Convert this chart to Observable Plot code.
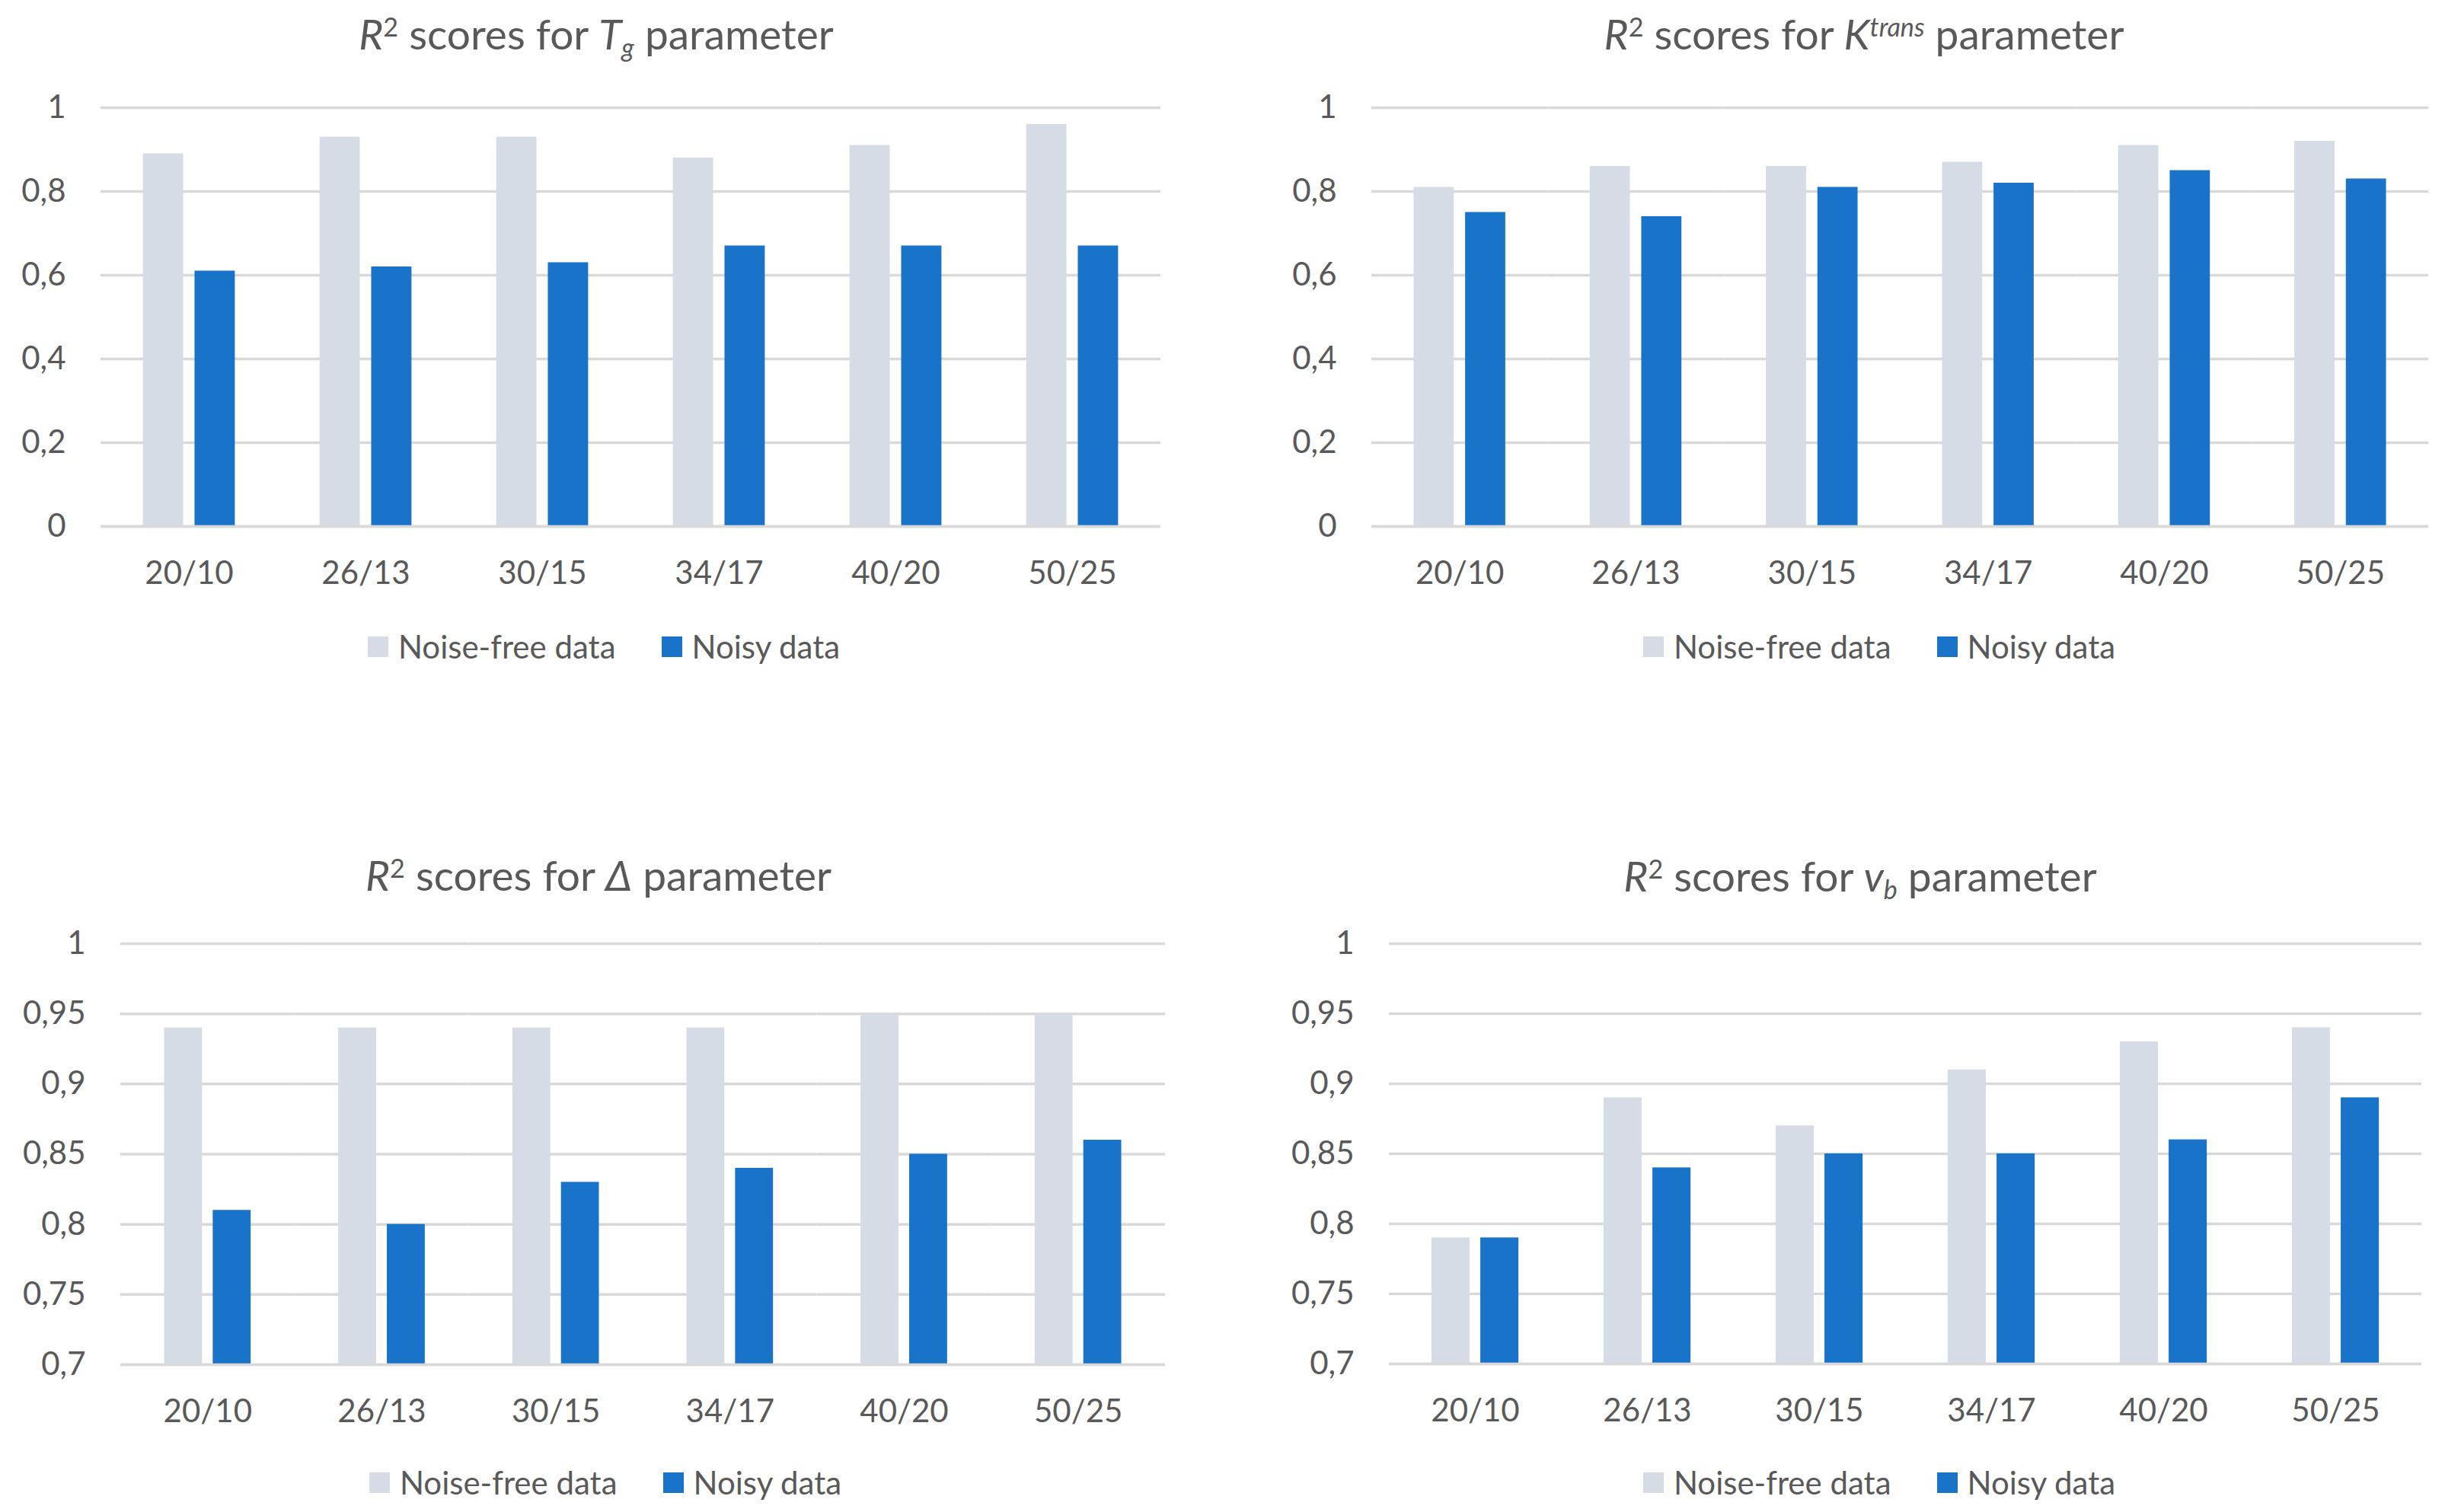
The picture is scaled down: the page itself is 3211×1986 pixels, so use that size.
<!DOCTYPE html>
<html>
<head>
<meta charset="utf-8">
<script src="https://cdn.jsdelivr.net/npm/d3@7"></script>
<script src="https://cdn.jsdelivr.net/npm/@observablehq/plot@0.6"></script>
<style>
  html, body { margin: 0; padding: 0; background: #fff; }
  #page { position: relative; width: 3211px; height: 1986px; background: #fff; overflow: hidden;
          font-family: Lato, "Open Sans", sans-serif; color: #595959; }
  .title { position: absolute; width: 1200px; text-align: center; font-size: 55px; line-height: 1.2;
           white-space: nowrap; color: #595959; }
  .sup { position: relative; top: -0.5em; font-size: 0.62em; }
  .sub { position: relative; top: 0.3em; font-size: 0.62em; }
  .legend { position: absolute; width: 1200px; display: flex; justify-content: center; align-items: center;
            font-size: 42px; line-height: 1; color: #595959; }
  .legend .item { display: flex; align-items: center; }
  .legend .item + .item { margin-left: 60px; }
  .legend .sw { width: 27px; height: 27px; margin-right: 13px; }
  .chart { position: absolute; }
</style>
</head>
<body>
<div id="page"></div>
<script>
// ---- data ----
const categories = ["20/10", "26/13", "30/15", "34/17", "40/20", "50/25"];
const seriesNames = ["Noise-free data", "Noisy data"];
const seriesColors = ["#d6dce5", "#1873c9"];

const tgNoiseFree = [0.89, 0.93, 0.93, 0.88, 0.91, 0.96];
const tgNoisy     = [0.61, 0.62, 0.63, 0.67, 0.67, 0.67];

const ktransNoiseFree = [0.81, 0.86, 0.86, 0.87, 0.91, 0.92];
const ktransNoisy     = [0.75, 0.74, 0.81, 0.82, 0.85, 0.83];

const deltaNoiseFree = [0.94, 0.94, 0.94, 0.94, 0.95, 0.95];
const deltaNoisy     = [0.81, 0.80, 0.83, 0.84, 0.85, 0.86];

const vbNoiseFree = [0.79, 0.89, 0.87, 0.91, 0.93, 0.94];
const vbNoisy     = [0.79, 0.84, 0.85, 0.85, 0.86, 0.89];

const ticksFull = [0, 0.2, 0.4, 0.6, 0.8, 1];
const ticksZoom = [0.7, 0.75, 0.8, 0.85, 0.9, 0.95, 1];

const titleTg     = '<i>R</i><span class="sup">2</span> scores for <i>T</i><span class="sub"><i>g</i></span> parameter';
const titleKtrans = '<i>R</i><span class="sup">2</span> scores for <i>K</i><span class="sup"><i>trans</i></span> parameter';
const titleDelta  = '<i>R</i><span class="sup">2</span> scores for <i>Δ</i> parameter';
const titleVb     = '<i>R</i><span class="sup">2</span> scores for <i>v</i><span class="sub"><i>b</i></span> parameter';

// ---- layout (pixels) ----
const panels = [
  {title: titleTg, nf: tgNoiseFree, noisy: tgNoisy, ticks: ticksFull,
   frame: {left: 132, top: 141, width: 1392, height: 550}, outer: 0.82,
   titleX: 783, titleBase: 65, legendX: 793, legendY: 849},
  {title: titleKtrans, nf: ktransNoiseFree, noisy: ktransNoisy, ticks: ticksFull,
   frame: {left: 1801, top: 141, width: 1388, height: 550}, outer: 0.82,
   titleX: 2448, titleBase: 65, legendX: 2468, legendY: 849},
  {title: titleDelta, nf: deltaNoiseFree, noisy: deltaNoisy, ticks: ticksZoom,
   frame: {left: 158, top: 1239, width: 1372, height: 553}, outer: 0.9,
   titleX: 786, titleBase: 1170, legendX: 795, legendY: 1947},
  {title: titleVb, nf: vbNoiseFree, noisy: vbNoisy, ticks: ticksZoom,
   frame: {left: 1824, top: 1239, width: 1356, height: 552}, outer: 0.87,
   titleX: 2443, titleBase: 1171, legendX: 2468, legendY: 1947}
];

const page = document.getElementById("page");
const fmt = d => String(d).replace(".", ",");
const ML = 130, MT = 40, MR = 12, MB = 110;

for (const p of panels) {
  // title
  const t = document.createElement("div");
  t.className = "title";
  t.innerHTML = p.title;
  t.style.left = (p.titleX - 600) + "px";
  t.style.top = (p.titleBase - 0.987 * 55) + "px";
  page.appendChild(t);

  const rows = [];
  categories.forEach((c, i) => {
    rows.push({cat: c, series: seriesNames[0], value: p.nf[i]});
    rows.push({cat: c, series: seriesNames[1], value: p.noisy[i]});
  });
  const yMin = p.ticks[0], yMax = p.ticks[p.ticks.length - 1];

  const chart = Plot.plot({
    width: ML + p.frame.width + MR,
    height: MT + p.frame.height + MB,
    marginLeft: ML, marginRight: MR, marginTop: MT, marginBottom: MB,
    style: {fontFamily: "Lato, 'Open Sans', sans-serif", fontSize: "42px", color: "#595959", background: "white"},
    fx: {domain: categories, padding: 0, round: false},
    x: {domain: seriesNames, paddingInner: 0.22, paddingOuter: p.outer, round: false, axis: null},
    y: {domain: [yMin, yMax], axis: null},
    color: {domain: seriesNames, range: seriesColors},
    marks: [
      Plot.gridY(p.ticks, {stroke: "#d9d9d9", strokeOpacity: 1, strokeWidth: 3.5}),
      Plot.axisY(p.ticks, {anchor: "left", tickSize: 0, tickPadding: 46, tickFormat: fmt, label: null, fill: "#595959"}),
      Plot.barY(rows, {fx: "cat", x: "series", y1: yMin, y2: "value", fill: "series"}),
      Plot.ruleY([yMin], {stroke: "#d9d9d9", strokeWidth: 3.5}),
      Plot.axisFx({anchor: "bottom", tickSize: 0, tickPadding: 46, label: null, fill: "#595959"})
    ]
  });
  chart.classList.add("chart");
  chart.style.left = (p.frame.left - ML) + "px";
  chart.style.top = (p.frame.top - MT) + "px";
  page.appendChild(chart);

  // legend
  const lg = document.createElement("div");
  lg.className = "legend";
  lg.style.left = (p.legendX - 600) + "px";
  lg.style.top = (p.legendY - 21) + "px";
  lg.style.height = "42px";
  seriesNames.forEach((s, i) => {
    const it = document.createElement("div");
    it.className = "item";
    const sw = document.createElement("div");
    sw.className = "sw";
    sw.style.background = seriesColors[i];
    const tx = document.createElement("span");
    tx.textContent = s;
    it.appendChild(sw); it.appendChild(tx);
    lg.appendChild(it);
  });
  page.appendChild(lg);
}
</script>
</body>
</html>
